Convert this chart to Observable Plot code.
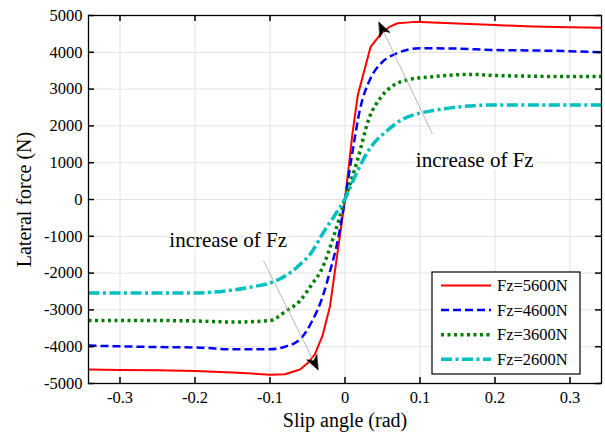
<!DOCTYPE html>
<html><head><meta charset="utf-8">
<script src="https://cdn.jsdelivr.net/npm/d3@7"></script>
<script src="https://cdn.jsdelivr.net/npm/@observablehq/plot@0.6"></script>
<style>body{margin:0;background:#fff} #chart{width:605px;height:435px} #chart svg, #chart svg text{font-family:'Liberation Serif','Times New Roman',serif !important}</style>
</head><body><div id="chart"></div>
<script>
const xTicks = [-0.3, -0.2, -0.1, 0, 0.1, 0.2, 0.3];
const xTickLabels = ["-0.3", "-0.2", "-0.1", "0", "0.1", "0.2", "0.3"];
const yTicks = [-5000, -4000, -3000, -2000, -1000, 0, 1000, 2000, 3000, 4000, 5000];
const yTickLabels = ["-5000", "-4000", "-3000", "-2000", "-1000", "0", "1000", "2000", "3000", "4000", "5000"];
const seriesNames = ["Fz=5600N", "Fz=4600N", "Fz=3600N", "Fz=2600N"];

const slip5600 = [-0.342,-0.3,-0.25,-0.2,-0.15,-0.1,-0.08,-0.06,-0.05,-0.04,-0.03,-0.02,-0.01,0,0.01,0.017,0.034,0.048,0.06,0.07,0.09,0.1,0.15,0.2,0.25,0.3,0.342];
const fy5600 = [-4620,-4630,-4640,-4660,-4700,-4760,-4750,-4620,-4450,-4200,-3700,-2900,-1450,0,1800,2830,4140,4510,4700,4790,4820,4820,4780,4740,4700,4680,4670];

const slip4600 = [-0.342,-0.3,-0.25,-0.2,-0.15,-0.1,-0.08,-0.06,-0.045,-0.03,-0.02,-0.01,0,0.01,0.02,0.034,0.048,0.07,0.1,0.15,0.2,0.25,0.3,0.342];
const fy4600 = [-3970,-3990,-4010,-4020,-4070,-4070,-4000,-3800,-3350,-2650,-1950,-1150,0,1300,2450,3290,3700,3980,4110,4100,4060,4050,4030,4000];

const slip3600 = [-0.342,-0.3,-0.25,-0.2,-0.15,-0.1,-0.09,-0.08,-0.06,-0.045,-0.03,-0.015,0,0.0165,0.032,0.048,0.061,0.083,0.118,0.17,0.2,0.25,0.3,0.342];
const fy3600 = [-3290,-3290,-3290,-3300,-3330,-3290,-3200,-3050,-2750,-2330,-1850,-1000,0,1060,2200,2780,3050,3250,3340,3400,3370,3350,3340,3340];

const slip2600 = [-0.342,-0.3,-0.25,-0.2,-0.15,-0.12,-0.1,-0.085,-0.072,-0.059,-0.046,-0.028,-0.014,0,0.0165,0.034,0.0565,0.074,0.095,0.118,0.141,0.172,0.2,0.25,0.3,0.342];
const fy2600 = [-2540,-2540,-2540,-2540,-2460,-2360,-2270,-2140,-1975,-1747,-1476,-870,-440,20,770,1410,1875,2147,2320,2418,2490,2550,2570,2570,2570,2570];

// annotations: text and arrows (data coordinates)
const noteText = ["increase of Fz", "increase of Fz"];
const noteX = [0.173, -0.1557];
const noteY = [1060, -1114];
const arrowStartX = [0.1165, -0.1088];
const arrowStartY = [1785, -1658];
const arrowTipX = [0.0453, -0.036];
const arrowTipY = [4818, -4628];

const colors = ["#ff0000", "#0000ff", "#008000", "#00bfbf"];
const widths = [2, 2.5, 3.5, 3.5];
const dashes = [null, "8,4", "3,3.5", "11,3.5,3,3.5"];

const slips = [slip5600, slip4600, slip3600, slip2600];
const forces = [fy5600, fy4600, fy3600, fy2600];
const rows = [];
seriesNames.forEach((s, k) => slips[k].forEach((x, i) => rows.push({series: s, x, y: forces[k][i]})));

const notes = noteText.map((t, i) => ({t, x: noteX[i], y: noteY[i]}));
const arrows = arrowStartX.map((_, i) => ({x1: arrowStartX[i], y1: arrowStartY[i], x2: arrowTipX[i], y2: arrowTipY[i]}));

const W = 605, H = 435;
const margins = {marginLeft: 88, marginRight: 4, marginTop: 15, marginBottom: 52};
const innerW = W - margins.marginLeft - margins.marginRight;
const innerH = H - margins.marginTop - margins.marginBottom;
const serif = "'Liberation Serif', 'Times New Roman', serif";

const headShape = {
  draw(context, l) {
    const w = l * 0.4;
    context.moveTo(0, -l);
    context.lineTo(w, 0);
    context.lineTo(0, -l * 0.3);
    context.lineTo(-w, 0);
    context.closePath();
  }
};

function build(heads) {
  const marks = [
    Plot.gridX(xTicks, {stroke: "#e2e2e2", strokeOpacity: 1}),
    Plot.gridY(yTicks, {stroke: "#e2e2e2", strokeOpacity: 1}),
    ...seriesNames.map((s, k) => Plot.line(rows.filter(d => d.series === s), {
      x: "x", y: "y", stroke: colors[k], strokeWidth: widths[k],
      strokeDasharray: dashes[k], strokeLinecap: "butt", strokeLinejoin: "round",
      curve: k === 0 ? "linear" : "monotone-x"
    })),
    Plot.link(arrows, {x1: "x1", y1: "y1", x2: "x2", y2: "y2", stroke: "#b0b0b0", strokeWidth: 0.9}),
    Plot.text(notes, {x: "x", y: "y", text: "t", fontSize: 21, fontFamily: serif, fill: "black", stroke: "white", strokeWidth: 5, paintOrder: "stroke"}),
    Plot.frame({stroke: "black", strokeWidth: 1.3}),
    Plot.ruleX(xTicks, {insetTop: innerH - 6, stroke: "black", strokeWidth: 1.5}),
    Plot.ruleX(xTicks, {insetBottom: innerH - 6, stroke: "black", strokeWidth: 1.5}),
    Plot.ruleY(yTicks, {insetRight: innerW - 6, stroke: "black", strokeWidth: 1.5}),
    Plot.ruleY(yTicks, {insetLeft: innerW - 6, stroke: "black", strokeWidth: 1.5}),
    Plot.axisX({ticks: xTicks, tickFormat: d => xTickLabels[xTicks.indexOf(d)], tickSize: 0, tickPadding: 8, label: null, fontSize: 16.5, fontFamily: serif}),
    Plot.axisY({ticks: yTicks, tickFormat: d => yTickLabels[yTicks.indexOf(d)], tickSize: 0, tickPadding: 6, label: null, fontSize: 16.5, fontFamily: serif}),
    Plot.text(["Slip angle (rad)"], {frameAnchor: "bottom", lineAnchor: "middle", textAnchor: "middle", dy: 37, fontSize: 20, fontFamily: serif, fill: "black"}),
    Plot.text(["Lateral force (N)"], {frameAnchor: "left", lineAnchor: "middle", textAnchor: "middle", dx: -64, rotate: -90, fontSize: 20, fontFamily: serif, fill: "black"})
  ];
  if (heads) {
    marks.push(Plot.vector(heads, {x: "x", y: "y", rotate: "angle", length: 14, anchor: "end", shape: headShape, fill: "black", stroke: "black", strokeWidth: 0.6}));
  }
  return Plot.plot({
    width: W, height: H, ...margins,
    style: {fontFamily: serif, fontSize: "16px", color: "black", background: "white"},
    x: {domain: [-0.342, 0.342]},
    y: {domain: [-5000, 5000]},
    marks
  });
}

// first pass to get the scales, then compute the arrowhead angles in screen space
const probe = build(null);
const sx = probe.scale("x"), sy = probe.scale("y");
const heads = arrows.map(a => {
  const dx = sx.apply(a.x2) - sx.apply(a.x1);
  const dy = sy.apply(a.y2) - sy.apply(a.y1);
  return {x: a.x2, y: a.y2, angle: Math.atan2(dx, -dy) * 180 / Math.PI};
});
const chart = build(heads);
document.getElementById("chart").appendChild(chart);

// legend inside the axes (lower right)
const svg = d3.select(chart);
const lg = svg.append("g").style("font-family", serif).style("font-size", "16.5px").attr("text-anchor", "start");
lg.append("rect").attr("x", 432).attr("y", 272).attr("width", 148).attr("height", 102)
  .attr("fill", "white").attr("stroke", "black").attr("stroke-width", 1.2);
seriesNames.forEach((s, k) => {
  const yy = 285.5 + k * 24.6;
  lg.append("line").attr("x1", 441).attr("x2", 491).attr("y1", yy).attr("y2", yy)
    .attr("stroke", colors[k]).attr("stroke-width", widths[k])
    .attr("stroke-dasharray", dashes[k]);
  lg.append("text").attr("x", 497).attr("y", yy).attr("dy", "0.34em").attr("text-anchor", "start")
    .attr("fill", "black").text(s);
});
</script>
</body></html>
